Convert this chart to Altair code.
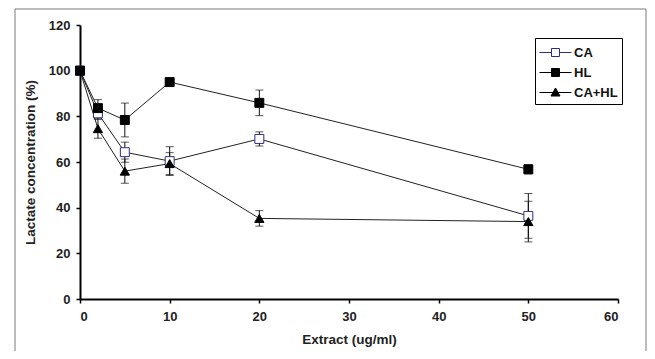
import altair as alt
import pandas as pd

doses = [0, 2, 5, 10, 20, 50]
series_names = ["CA", "HL", "CA+HL"]
ca_mean = [100, 81.3, 64.3, 60.4, 70.1, 36.4]
ca_err = [0, 2.5, 4.4, 6.3, 3.1, 9.8]
hl_mean = [100, 83.6, 78.4, 95.0, 85.9, 56.8]
hl_err = [0, 3.7, 7.4, 1.5, 5.6, 2.0]
cahl_mean = [100, 74.6, 56.0, 59.3, 35.3, 33.9]
cahl_err = [0, 4.2, 5.3, 4.8, 3.4, 8.9]

rows = []
for name, means, errs in zip(series_names, [ca_mean, hl_mean, cahl_mean], [ca_err, hl_err, cahl_err]):
    for d, m, e in zip(doses, means, errs):
        rows.append({"series": name, "dose": d, "value": m, "lo": m - e, "hi": m + e})
df = pd.DataFrame(rows)

FONT = "Liberation Sans"

x_enc = alt.X("dose:Q", scale=alt.Scale(domain=[0, 60], nice=False),
              axis=alt.Axis(values=[0, 10, 20, 30, 40, 50, 60], title="Extract (ug/ml)",
                            labelPadding=7, titlePadding=9))
y_enc = alt.Y("value:Q", scale=alt.Scale(domain=[0, 120], nice=False),
              axis=alt.Axis(values=[0, 20, 40, 60, 80, 100, 120], title="Lactate concentration (%)",
                            labelPadding=6, titlePadding=11))

sym_square = "M-1.6,0H-0.4M0.4,0H1.6M-0.4,-0.4H0.4V0.4H-0.4Z"
sym_tri = "M-1.6,0H1.6M0,-0.45L0.45,0.35L-0.45,0.35Z"

legend = alt.Legend(
    title=None, orient="none", legendX=455, legendY=13,
    strokeColor="black", fillColor="white", padding=4, rowPadding=2,
    symbolSize=400, symbolOffset=6, labelOffset=8, symbolStrokeWidth=1,
    labelFont=FONT, labelFontSize=13, labelFontWeight="bold", labelColor="#111",
)

lines = alt.Chart(df).mark_line(color="#222", strokeWidth=1).encode(
    x=x_enc, y=y_enc, detail="series:N", order="dose:Q")

err_rule = alt.Chart(df).mark_rule(color="#111", strokeWidth=1).encode(
    x="dose:Q", y="lo:Q", y2="hi:Q")
cap_lo = alt.Chart(df).mark_tick(orient="horizontal", size=8, thickness=1, color="#111").encode(
    x="dose:Q", y="lo:Q")
cap_hi = alt.Chart(df).mark_tick(orient="horizontal", size=8, thickness=1, color="#111").encode(
    x="dose:Q", y="hi:Q")

pts_ca = alt.Chart(df).transform_filter(alt.datum.series == "CA").mark_point(
    shape="square", size=80, opacity=1, strokeWidth=1, fill="white", stroke="#2e2e80", filled=False
).encode(x="dose:Q", y="value:Q")
pts_hl = alt.Chart(df).transform_filter(alt.datum.series == "HL").mark_point(
    shape="square", size=80, opacity=1, strokeWidth=1, fill="black", stroke="black"
).encode(x="dose:Q", y="value:Q")
pts_cahl = alt.Chart(df).transform_filter(alt.datum.series == "CA+HL").mark_point(
    shape="triangle-up", size=85, opacity=1, strokeWidth=1, fill="black", stroke="black"
).encode(x="dose:Q", y="value:Q")

legend_layer = alt.Chart(df).transform_filter("datum.dose < 0").mark_point(strokeWidth=1, opacity=1).encode(
    x="dose:Q", y="value:Q",
    shape=alt.Shape("series:N", scale=alt.Scale(domain=series_names, range=[sym_square, sym_square, sym_tri]), legend=legend),
    fill=alt.Fill("series:N", scale=alt.Scale(domain=series_names, range=["white", "black", "black"]), legend=legend),
    stroke=alt.Stroke("series:N", scale=alt.Scale(domain=series_names, range=["#2e2e80", "black", "black"]), legend=legend),
)

frame_df = pd.DataFrame({"a": [0]})
left = alt.Chart(frame_df).mark_rule(color="#7a7a7a", strokeWidth=1).encode(
    x=alt.value(-65), y=alt.value(-16), y2=alt.value(326))
right = alt.Chart(frame_df).mark_rule(color="#7a7a7a", strokeWidth=1).encode(
    x=alt.value(566), y=alt.value(-16), y2=alt.value(326))
top = alt.Chart(frame_df).mark_rule(color="#7a7a7a", strokeWidth=1).encode(
    x=alt.value(-65), x2=alt.value(566), y=alt.value(-16))

chart = alt.layer(lines, err_rule, cap_lo, cap_hi, pts_ca, pts_hl, pts_cahl, legend_layer, left, right, top).properties(
    width=538, height=274,
    padding={"left": 6, "top": 0, "right": 0, "bottom": 0},
).configure_view(stroke=None).configure_axis(
    domainColor="black", domainWidth=2, tickColor="black", tickWidth=1.5, tickSize=4,
    grid=False, labelFont=FONT, labelFontSize=13, labelFontWeight="bold", labelColor="#222",
    titleFont=FONT, titleFontSize=13.5, titleFontWeight="bold", titleColor="#222",
)

chart.save("out.html", embed_options={"renderer": "svg", "actions": False})
